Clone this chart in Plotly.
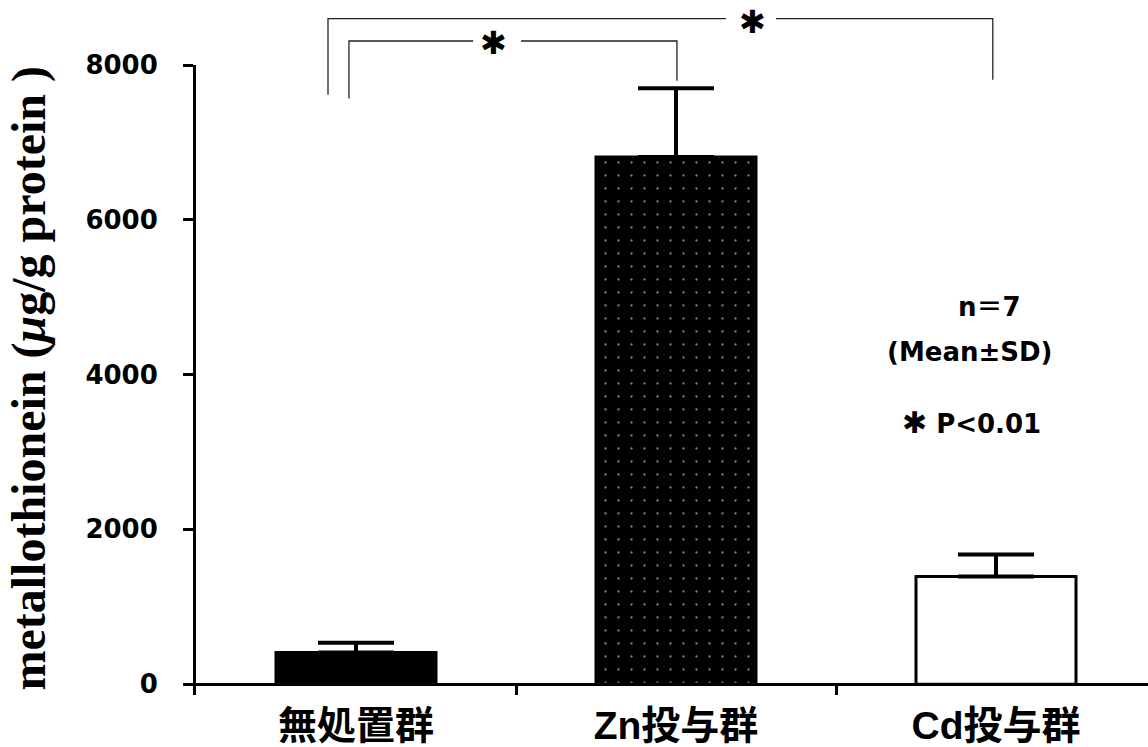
import plotly.graph_objects as go

# Metallothionein content per group (mean and SD, n=7)
categories = ["無処置群", "Zn投与群", "Cd投与群"]
tick_labels = ["無処置群", "Zn投与群", "Cd投与群"]
mean_values = [410, 6810, 1390]
sd_values = [125, 890, 285]
y_ticks = [0, 2000, 4000, 6000, 8000]

# axis ranges (shared with the helpers that place the brackets)
XR = [-0.5, 2.475]
YR = [-140, 8000]


def xp(idx):
    return (idx - XR[0]) / (XR[1] - XR[0])


def yp(val):
    return (val - YR[0]) / (YR[1] - YR[0])


fill_colors = ["black", "black", "white"]
pattern_shapes = ["", ".", ""]

fig = go.Figure()
fig.add_trace(go.Bar(
    x=categories,
    y=mean_values,
    width=0.5,
    marker=dict(
        color=fill_colors,
        line=dict(color="black", width=3),
        pattern=dict(shape=pattern_shapes, fgcolor="white", size=13, solidity=0.025),
    ),
    error_y=dict(type="data", symmetric=False, array=sd_values,
                 arrayminus=[0] * len(sd_values),
                 color="black", thickness=4, width=38),
    showlegend=False,
))

# significance brackets above the bars
bracket_line = dict(color="#222", width=1.3)
outer_path = (f"M {xp(-0.0875)},{yp(7617)} L {xp(-0.0875)},{yp(8600)} L {xp(1.156)},{yp(8600)} "
              f"M {xp(1.3125)},{yp(8600)} L {xp(1.99)},{yp(8600)} L {xp(1.99)},{yp(7809)}")
inner_path = (f"M {xp(-0.022)},{yp(7566)} L {xp(-0.022)},{yp(8310)} L {xp(0.366)},{yp(8310)} "
              f"M {xp(0.516)},{yp(8310)} L {xp(1.003)},{yp(8310)} L {xp(1.003)},{yp(7796)}")
shapes = [
    dict(type="path", xref="paper", yref="paper", path=outer_path, line=bracket_line),
    dict(type="path", xref="paper", yref="paper", path=inner_path, line=bracket_line),
]

star_font = dict(family="DejaVu Sans", size=32, color="black")
note_font = dict(family="DejaVu Sans, Noto Sans CJK JP", size=26, color="black", weight="bold")
annotations = [
    dict(text="✱", x=xp(1.2375), y=yp(8561), xref="paper", yref="paper",
         showarrow=False, xanchor="center", yanchor="middle", font=star_font),
    dict(text="✱", x=xp(0.431), y=yp(8287), xref="paper", yref="paper",
         showarrow=False, xanchor="center", yanchor="middle", font=star_font),
    dict(text="n＝7", x=0.834, y=0.616, xref="paper", yref="paper",
         showarrow=False, xanchor="center", yanchor="middle", font=note_font),
    dict(text="(Mean±SD)", x=0.813, y=0.544, xref="paper", yref="paper",
         showarrow=False, xanchor="center", yanchor="middle", font=note_font),
    dict(text="<span style='font-weight:normal;font-size:30px'>✱</span> P<0.01",
         x=0.815, y=0.433, xref="paper", yref="paper",
         showarrow=False, xanchor="center", yanchor="middle", font=note_font),
    dict(text="metallothionein (<i>μ</i>g/g protein )", textangle=-90,
         x=-0.175, y=0.503, xref="paper", yref="paper",
         showarrow=False, xanchor="center", yanchor="middle",
         font=dict(family="Liberation Serif", size=48, color="black", weight="bold")),
]

fig.update_layout(
    width=1148, height=747,
    margin=dict(l=196, r=0, t=65, b=44),
    paper_bgcolor="white", plot_bgcolor="white",
    shapes=shapes, annotations=annotations,
)
fig.update_xaxes(
    type="category", range=XR,
    tickmode="array", tickvals=categories, ticktext=tick_labels,
    tickson="boundaries", ticks="inside", ticklen=11, tickwidth=3, tickcolor="black",
    showline=False, showgrid=False, zeroline=False,
    tickfont=dict(family="Liberation Sans, Noto Sans CJK JP", size=39, color="black",
                  weight="bold"),
    ticklabelstandoff=4,
)
fig.update_yaxes(
    range=YR, tickmode="array", tickvals=y_ticks,
    ticks="outside", ticklen=10, tickwidth=3, tickcolor="black",
    showline=True, linewidth=3, linecolor="black",
    showgrid=False, zeroline=True, zerolinecolor="black", zerolinewidth=3,
    tickfont=dict(family="DejaVu Sans", size=26, color="black", weight="bold"),
    ticklabelstandoff=20,
)

fig.write_html("out.html")
